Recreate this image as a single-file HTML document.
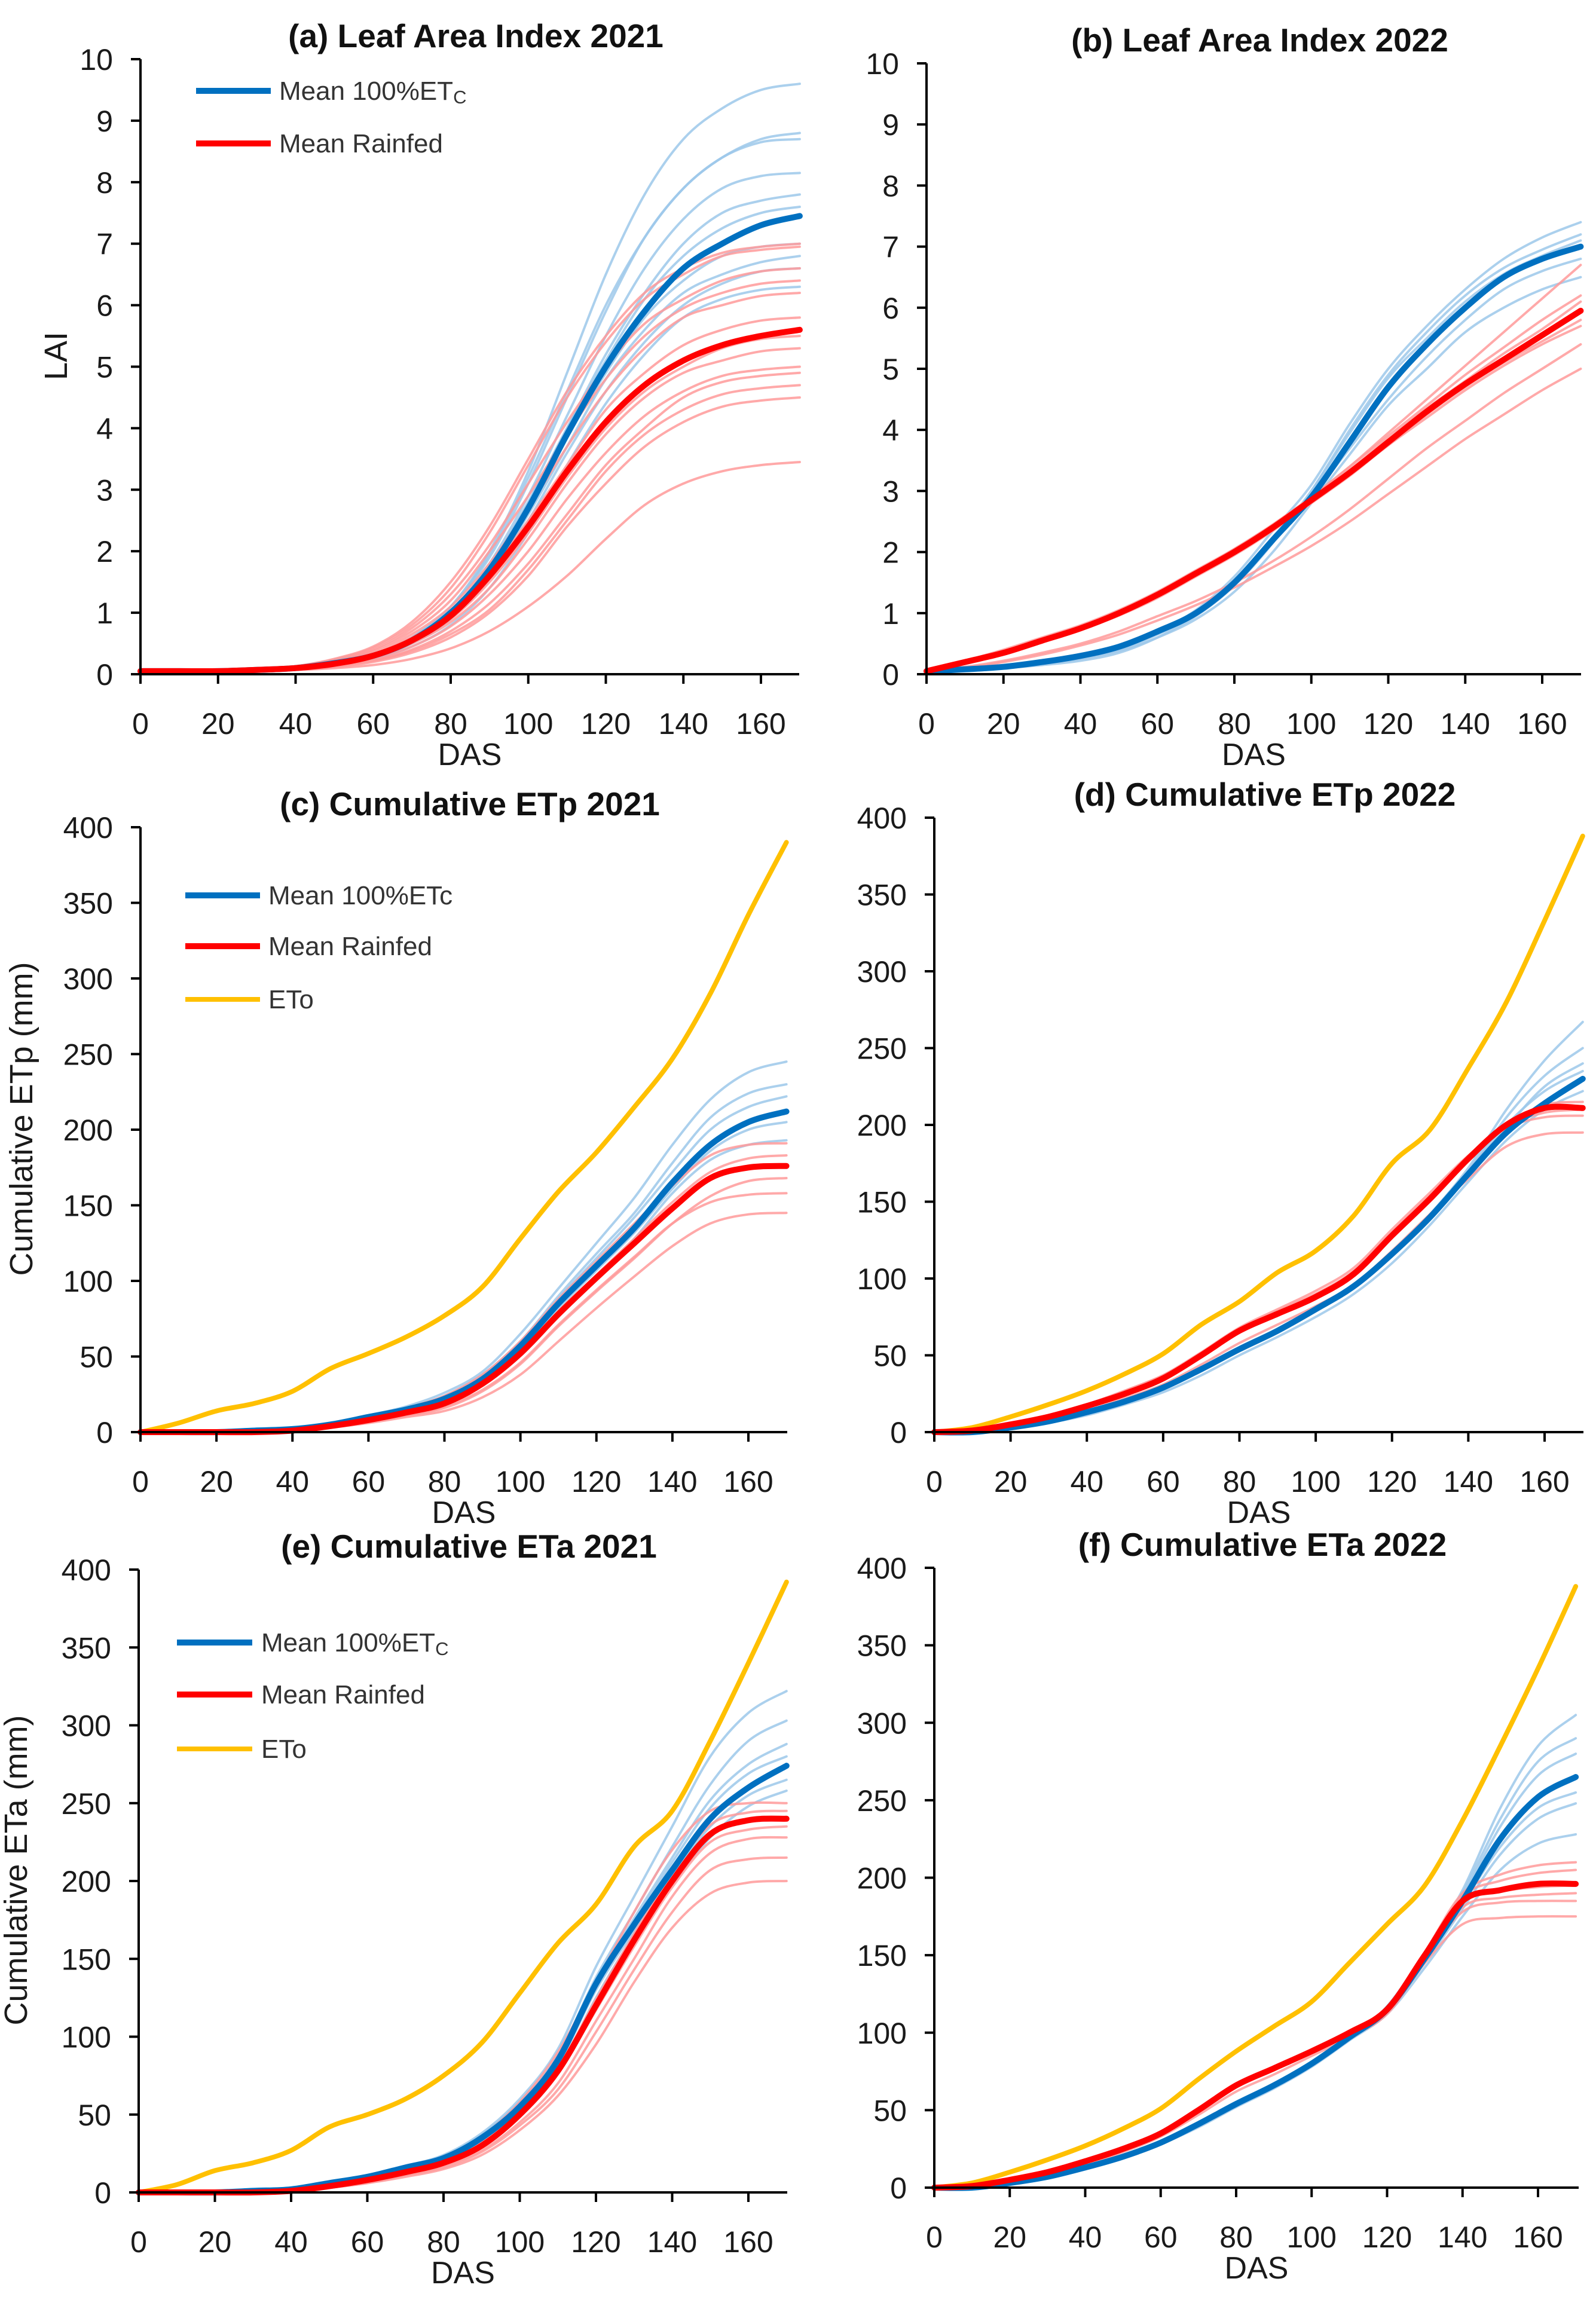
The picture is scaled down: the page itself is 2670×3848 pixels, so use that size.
<!DOCTYPE html>
<html><head><meta charset="utf-8">
<style>
html,body{margin:0;padding:0;background:#fff;}
svg{display:block;font-family:"Liberation Sans",sans-serif;}
</style></head>
<body>
<svg id="fig" width="2670" height="3848" viewBox="0 0 2670 3848" xmlns="http://www.w3.org/2000/svg"></svg>
<script>
// ---- data (x = 0..170 step 10 DAS) ----
const DAS = [0,10,20,30,40,50,60,70,80,90,100,110,120,130,140,150,160,170];
const laiTicks = [0,1,2,3,4,5,6,7,8,9,10];
const etTicks = [0,50,100,150,200,250,300,350,400];
const dasTicks = [0,20,40,60,80,100,120,140,160];

// (a) LAI 2021
const aBlueMean = [.05,.05,.05,.07,.1,.18,.3,.55,1.0,1.7,2.7,3.9,5.0,5.9,6.6,7.0,7.3,7.45];
const aRedMean  = [.05,.05,.05,.07,.1,.17,.3,.55,.95,1.6,2.4,3.3,4.1,4.7,5.1,5.35,5.5,5.6];
const aBlue1 = [.05,.05,.05,.07,.1,.18,.32,.6,1.1,2.0,3.3,4.9,6.5,7.8,8.7,9.2,9.5,9.6];
const aBlue2 = [.05,.05,.05,.07,.1,.18,.32,.6,1.1,1.9,3.1,4.5,5.9,7.1,7.9,8.4,8.7,8.8];
const aBlue3 = [.05,.05,.05,.07,.1,.17,.3,.55,1.0,1.8,2.9,4.2,5.5,6.6,7.4,7.9,8.1,8.15];
const aBlue4 = [.05,.05,.05,.07,.1,.17,.3,.55,1.0,1.75,2.8,4.0,5.2,6.2,7.0,7.5,7.7,7.8];
const aBlue5 = [.05,.05,.05,.07,.1,.16,.28,.5,.9,1.6,2.6,3.7,4.8,5.6,6.2,6.5,6.7,6.8];
const aBlue6 = [.05,.05,.05,.07,.09,.15,.25,.45,.8,1.4,2.3,3.4,4.4,5.2,5.8,6.1,6.25,6.3];
const aBlue7 = [.05,.05,.05,.07,.1,.18,.32,.6,1.1,1.95,3.2,4.6,6.0,7.1,7.9,8.4,8.65,8.7];
const aBlue8 = [.05,.05,.05,.07,.1,.17,.3,.55,1.0,1.75,2.8,4.0,5.1,6.1,6.8,7.25,7.5,7.6];
const aBlue9 = [.05,.05,.05,.07,.1,.17,.3,.52,.95,1.65,2.7,3.85,4.9,5.8,6.4,6.8,6.95,7.0];
const aBlue10 = [.05,.05,.05,.07,.1,.16,.28,.5,.9,1.55,2.5,3.6,4.6,5.4,6.0,6.35,6.55,6.6];
const aRed1 = [.05,.05,.06,.08,.13,.25,.45,.85,1.5,2.4,3.5,4.6,5.5,6.2,6.6,6.85,6.95,7.0];
const aRed2 = [.05,.05,.05,.07,.12,.22,.4,.75,1.3,2.1,3.1,4.1,5.0,5.7,6.1,6.4,6.55,6.6];
const aRed3 = [.05,.05,.05,.07,.11,.2,.35,.65,1.1,1.8,2.7,3.7,4.6,5.3,5.8,6.0,6.15,6.2];
const aRed4 = [.05,.05,.05,.07,.1,.16,.28,.5,.85,1.4,2.2,3.1,3.9,4.5,4.9,5.1,5.25,5.3];
const aRed5 = [.05,.05,.05,.06,.08,.13,.22,.4,.7,1.15,1.8,2.6,3.4,4.0,4.5,4.75,4.85,4.9];
const aRed6 = [.05,.05,.05,.06,.08,.12,.2,.35,.6,1.0,1.6,2.4,3.1,3.7,4.1,4.35,4.45,4.5];
const aRed7 = [.05,.05,.05,.06,.07,.1,.15,.25,.42,.7,1.1,1.6,2.2,2.75,3.1,3.3,3.4,3.45];
const aRed8 = [.05,.05,.06,.08,.13,.24,.43,.8,1.4,2.3,3.4,4.5,5.4,6.1,6.5,6.8,6.9,6.95];
const aRed9 = [.05,.05,.05,.07,.12,.21,.38,.7,1.2,2.0,2.9,3.9,4.8,5.5,5.95,6.2,6.35,6.4];
const aRed10 = [.05,.05,.05,.07,.11,.19,.33,.6,1.0,1.65,2.5,3.4,4.3,4.9,5.35,5.6,5.75,5.8];
const aRed11 = [.05,.05,.05,.07,.1,.17,.3,.55,.9,1.5,2.3,3.2,4.0,4.6,5.0,5.3,5.45,5.5];
const aRed12 = [.05,.05,.05,.06,.09,.15,.25,.45,.78,1.3,2.0,2.85,3.6,4.2,4.6,4.85,4.95,5.0];
const aRed13 = [.05,.05,.05,.06,.08,.13,.22,.38,.65,1.05,1.7,2.5,3.3,3.9,4.3,4.55,4.65,4.7];

// (b) LAI 2022
const bBlueMean = [.05,.08,.12,.2,.3,.45,.7,1.0,1.5,2.2,2.9,3.8,4.7,5.4,6.0,6.5,6.8,7.0];
const bRedMean  = [.05,.2,.35,.55,.75,1.0,1.3,1.65,2.0,2.4,2.85,3.3,3.8,4.3,4.75,5.15,5.55,5.95];
const bBlue1 = [.05,.08,.12,.2,.3,.45,.7,1.05,1.6,2.35,3.1,4.1,5.0,5.7,6.3,6.8,7.15,7.4];
const bBlue2 = [.05,.07,.1,.17,.25,.38,.6,.9,1.35,2.0,2.8,3.6,4.4,5.0,5.6,6.0,6.3,6.5];
const bBlue3 = [.05,.06,.1,.15,.22,.35,.6,.95,1.45,2.15,3.0,4.0,4.9,5.6,6.2,6.65,6.95,7.2];
const bBlue4 = [.05,.07,.11,.18,.27,.4,.65,.97,1.5,2.2,3.0,3.95,4.85,5.5,6.1,6.55,6.85,7.1];
const bBlue5 = [.05,.07,.11,.19,.28,.43,.68,1.0,1.5,2.2,2.9,3.7,4.5,5.2,5.8,6.3,6.6,6.8];
const bRed1 = [.05,.22,.4,.6,.8,1.05,1.35,1.7,2.05,2.45,2.9,3.4,3.95,4.5,5.05,5.6,6.15,6.7];
const bRed2 = [.05,.2,.37,.57,.78,1.02,1.32,1.68,2.05,2.45,2.9,3.4,3.9,4.4,4.9,5.35,5.8,6.2];
const bRed3 = [.05,.12,.22,.35,.5,.7,.95,1.2,1.5,1.85,2.25,2.7,3.2,3.7,4.15,4.6,5.0,5.4];
const bRed4 = [.05,.1,.2,.32,.47,.65,.88,1.13,1.42,1.75,2.1,2.5,2.95,3.4,3.85,4.25,4.65,5.0];
const bRed5 = [.05,.18,.34,.53,.73,.96,1.25,1.6,1.95,2.35,2.8,3.25,3.75,4.2,4.65,5.05,5.4,5.7];
const bRed6 = [.05,.21,.37,.57,.77,1.02,1.32,1.67,2.03,2.43,2.88,3.35,3.85,4.35,4.8,5.25,5.65,6.1];
const bRed7 = [.05,.19,.34,.53,.73,.98,1.28,1.62,1.98,2.38,2.82,3.27,3.75,4.25,4.7,5.1,5.45,5.8];

// (c) Cumulative ETp 2021
const cEto = [0,6,14,19,27,42,52,63,77,96,128,159,185,215,247,290,342,390];
const cBlueMean = [0,0,0,1,2,5,10,15,22,35,57,85,110,135,165,190,205,212];
const cRedMean  = [0,0,0,0,1,4,8,13,19,32,52,78,102,125,148,168,175,176];
const cBlue1 = [0,0,0,1,2,5,11,17,26,40,65,95,125,155,190,220,238,245];
const cBlue2 = [0,0,0,1,2,5,10,16,24,38,60,90,118,145,178,208,224,230];
const cBlue3 = [0,0,0,1,2,4,9,14,20,32,52,78,103,128,158,180,190,193];
const cBlue4 = [0,0,0,1,2,5,10,16,23,37,59,88,115,142,172,200,215,222];
const cBlue5 = [0,0,0,1,2,5,10,15,21,34,55,82,107,132,161,186,200,205];
const cRed1 = [0,0,0,1,2,5,10,16,24,38,60,88,113,138,163,183,190,191];
const cRed2 = [0,0,0,0,1,3,7,11,16,27,45,70,93,115,138,156,166,168];
const cRed3 = [0,0,0,0,1,3,6,10,14,23,38,60,82,103,123,138,144,145];
const cRed4 = [0,0,0,0,1,4,8,13,19,32,53,80,104,128,152,172,181,183];
const cRed5 = [0,0,0,0,1,3,7,11,17,28,46,71,94,116,138,152,157,158];

// (d) Cumulative ETp 2022
const dEto = [0,3,10,18,27,38,51,70,85,104,118,141,175,197,237,280,333,388];
const dBlueMean = [0,0,3,7,13,20,29,41,54,66,80,95,116,140,168,195,214,230];
const dRedMean  = [0,1,5,10,17,25,35,50,66,77,88,103,128,152,178,200,211,211];
const dBlue1 = [0,0,3,7,13,20,29,41,54,66,80,95,117,142,172,210,242,267];
const dBlue2 = [0,0,3,7,13,20,29,41,54,66,80,95,116,140,168,198,225,240];
const dBlue3 = [0,0,2,6,11,18,26,37,50,62,75,90,110,135,163,190,210,222];
const dBlue4 = [0,0,3,7,13,20,29,41,54,66,80,95,116,140,170,200,222,235];
const dBlue5 = [0,0,3,7,13,20,29,41,54,66,80,96,117,141,170,205,232,250];
const dRed1 = [0,1,5,10,17,25,35,50,66,77,88,103,128,152,178,200,213,215];
const dRed2 = [0,1,4,8,14,22,31,44,58,70,82,96,118,142,165,186,194,195];
const dRed3 = [0,1,5,11,18,27,37,52,68,80,92,107,132,156,180,198,205,206];
const dRed4 = [0,1,5,11,18,27,37,51,67,79,90,105,130,154,179,199,208,210];

// (e) Cumulative ETa 2021
const eEto = [0,5,14,19,27,42,50,60,75,96,128,160,185,222,245,290,340,392];
const eBlueMean = [0,0,0,1,2,6,10,16,22,35,55,85,134,172,207,240,260,274];
const eRedMean  = [0,0,0,0,1,4,8,13,19,30,50,78,120,162,200,230,239,240];
const eBlue1 = [0,0,0,1,2,6,11,17,24,38,60,92,145,190,235,280,308,322];
const eBlue2 = [0,0,0,1,2,6,10,16,23,37,58,88,138,180,222,262,290,303];
const eBlue3 = [0,0,0,1,2,5,9,14,20,32,50,78,125,165,198,228,248,258];
const eBlue4 = [0,0,0,1,2,6,10,16,23,36,57,86,135,176,215,252,275,288];
const eBlue5 = [0,0,0,1,2,6,10,16,23,36,56,86,134,174,212,247,269,280];
const eBlue6 = [0,0,0,1,2,5,10,15,21,34,53,82,130,168,203,235,255,265];
const eRed1 = [0,0,0,1,2,5,10,16,23,36,58,90,135,180,220,245,250,250];
const eRed2 = [0,0,0,0,1,3,7,11,17,27,45,70,110,150,190,218,227,228];
const eRed3 = [0,0,0,0,1,3,6,10,15,24,40,62,95,135,170,192,199,200];
const eRed4 = [0,0,0,0,1,4,8,13,19,30,49,76,117,158,196,225,233,235];
const eRed5 = [0,0,0,0,1,4,8,14,20,32,52,80,124,166,205,236,244,245];
const eRed6 = [0,0,0,0,1,3,6,11,16,26,43,66,103,143,180,207,214,215];

// (f) Cumulative ETa 2022
const fEto = [0,3,10,18,27,38,51,70,88,104,120,145,170,195,237,285,335,388];
const fBlueMean = [0,0,3,7,13,20,29,41,54,66,80,97,115,148,185,225,252,265];
const fRedMean  = [0,1,5,10,17,25,35,50,66,77,88,100,115,150,185,192,196,196];
const fBlue1 = [0,0,3,7,13,20,29,41,54,66,80,97,117,152,192,245,285,305];
const fBlue2 = [0,0,3,7,13,20,29,41,54,66,80,97,116,150,190,238,275,290];
const fBlue3 = [0,0,3,7,13,20,29,41,54,66,80,97,114,145,180,215,238,248];
const fBlue4 = [0,0,2,6,12,19,28,39,52,64,78,95,112,142,175,205,222,228];
const fBlue5 = [0,0,3,7,13,20,29,41,54,66,80,97,116,149,188,233,266,280];
const fBlue6 = [0,0,3,7,13,20,29,41,54,66,80,97,115,147,183,220,245,255];
const fRed1 = [0,1,5,10,17,25,35,50,66,77,88,100,116,152,190,202,208,210];
const fRed2 = [0,1,5,10,17,25,35,50,66,77,88,100,114,148,178,184,185,185];
const fRed3 = [0,1,4,9,15,23,33,47,62,73,85,97,112,145,170,174,175,175];
const fRed4 = [0,1,5,10,17,25,35,50,66,77,88,100,115,150,184,191,194,195];
const fRed5 = [0,1,5,10,17,25,35,50,66,77,88,100,116,151,188,198,203,205];
const fRed6 = [0,1,5,10,17,25,35,49,65,76,87,99,114,148,181,187,189,190];

const NS = "http://www.w3.org/2000/svg";
const svg = document.getElementById('fig');
function mk(tag, attrs, parent){
  const e = document.createElementNS(NS, tag);
  for (const k in attrs) e.setAttribute(k, attrs[k]);
  (parent||svg).appendChild(e);
  return e;
}
function smoothPath(pts){
  let d = 'M'+pts[0][0].toFixed(1)+','+pts[0][1].toFixed(1);
  for (let i=0;i<pts.length-1;i++){
    const p0=pts[Math.max(0,i-1)], p1=pts[i], p2=pts[i+1], p3=pts[Math.min(pts.length-1,i+2)];
    const c1x=p1[0]+(p2[0]-p0[0])/6, c1y=p1[1]+(p2[1]-p0[1])/6;
    const c2x=p2[0]-(p3[0]-p1[0])/6, c2y=p2[1]-(p3[1]-p1[1])/6;
    d+=' C'+c1x.toFixed(1)+','+c1y.toFixed(1)+' '+c2x.toFixed(1)+','+c2y.toFixed(1)+' '+p2[0].toFixed(1)+','+p2[1].toFixed(1);
  }
  return d;
}

const panels = [
 {id:'a', title:'(a) Leaf Area Index 2021', x0:235,x160:1273,xend:1337,y0:1128,yTop:99,ymax:10,yt:laiTicks, ylab:'LAI', ylabX:112, legend:{x1:328,x2:453,tx:467,ys:[152,240],sub:true},
  blues:[aBlue1,aBlue2,aBlue3,aBlue4,aBlue5,aBlue6,aBlue7,aBlue8,aBlue9,aBlue10], reds:[aRed1,aRed2,aRed3,aRed4,aRed5,aRed6,aRed7,aRed8,aRed9,aRed10,aRed11,aRed12,aRed13], bm:aBlueMean, rm:aRedMean, eto:null},
 {id:'b', title:'(b) Leaf Area Index 2022', x0:1550,x160:2580,xend:2645,y0:1128,yTop:106,ymax:10,yt:laiTicks, ylab:null,
  blues:[bBlue1,bBlue2,bBlue3,bBlue4,bBlue5], reds:[bRed1,bRed2,bRed3,bRed4,bRed5,bRed6,bRed7], bm:bBlueMean, rm:bRedMean, eto:null},
 {id:'c', title:'(c) Cumulative ETp 2021', x0:235,x160:1252,xend:1317,y0:2396,yTop:1384,ymax:400,yt:etTicks, ylab:'Cumulative ETp (mm)', ylabX:54, legend:{x1:310,x2:435,tx:449,ys:[1498,1583,1672],sub:false},
  blues:[cBlue1,cBlue2,cBlue3,cBlue4,cBlue5], reds:[cRed1,cRed2,cRed3,cRed4,cRed5], bm:cBlueMean, rm:cRedMean, eto:cEto},
 {id:'d', title:'(d) Cumulative ETp 2022', x0:1563,x160:2584,xend:2649,y0:2396,yTop:1368,ymax:400,yt:etTicks, ylab:null,
  blues:[dBlue1,dBlue2,dBlue3,dBlue4,dBlue5], reds:[dRed1,dRed2,dRed3,dRed4], bm:dBlueMean, rm:dRedMean, eto:dEto},
 {id:'e', title:'(e) Cumulative ETa 2021', x0:232,x160:1252,xend:1317,y0:3668,yTop:2626,ymax:400,yt:etTicks, ylab:'Cumulative ETa (mm)', ylabX:45, legend:{x1:296,x2:422,tx:437,ys:[2748,2835,2926],sub:true},
  blues:[eBlue1,eBlue2,eBlue3,eBlue4,eBlue5,eBlue6], reds:[eRed1,eRed2,eRed3,eRed4,eRed5,eRed6], bm:eBlueMean, rm:eRedMean, eto:eEto},
 {id:'f', title:'(f) Cumulative ETa 2022', x0:1563,x160:2573,xend:2641,y0:3660,yTop:2623,ymax:400,yt:etTicks, ylab:null,
  blues:[fBlue1,fBlue2,fBlue3,fBlue4,fBlue5,fBlue6], reds:[fRed1,fRed2,fRed3,fRed4,fRed5,fRed6], bm:fBlueMean, rm:fRedMean, eto:fEto}
];

panels.forEach(p=>{
  const g = mk('g',{});
  
  
  const xs = v => p.x0 + (p.x160-p.x0)*v/160;
  const ys = v => p.y0 - (p.y0-p.yTop)*v/p.ymax;
  const series = (arr, color, w, name, op) => {
    const path = mk('path',{d:smoothPath(DAS.map((x,i)=>[xs(x),ys(arr[i])])), fill:'none', stroke:color,'stroke-width':w,'stroke-linejoin':'round','stroke-linecap':'round','stroke-opacity':op||1}, g);
    
    
  };
  p.blues.forEach((s,i)=>series(s,'#9cc8ea',4,'blue-plot-line-'+(i+1),0.85));
  p.reds.forEach((s,i)=>series(s,'#ff9a9a',4,'red-plot-line-'+(i+1),0.85));
  if (p.eto) series(p.eto,'#ffc000',8,'eto-line');
  series(p.bm,'#0070c0',10,'mean-100etc-line');
  series(p.rm,'#ff0000',10,'mean-rainfed-line');

  const ax = mk('line',{x1:p.x0,y1:p.y0,x2:p.xend,y2:p.y0,stroke:'#000','stroke-width':4},g);
  
  
  const ay = mk('line',{x1:p.x0,y1:p.y0+2,x2:p.x0,y2:p.yTop,stroke:'#000','stroke-width':4},g);
  
  
  dasTicks.forEach(t=>{
    mk('line',{x1:xs(t),y1:p.y0,x2:xs(t),y2:p.y0+16,stroke:'#000','stroke-width':4},g);
    const tx = mk('text',{x:xs(t),y:p.y0+100,'text-anchor':'middle','font-size':50,fill:'#1a1a1a'},g);
    tx.textContent = t;
    
    
  });
  p.yt.forEach(t=>{
    mk('line',{x1:p.x0-16,y1:ys(t),x2:p.x0,y2:ys(t),stroke:'#000','stroke-width':4},g);
    const tx = mk('text',{x:p.x0-46,y:ys(t)+18,'text-anchor':'end','font-size':50,fill:'#1a1a1a'},g);
    tx.textContent = t;
    
    
  });
  const xl = mk('text',{x:(p.x0+p.xend)/2,y:p.y0+152,'text-anchor':'middle','font-size':52,fill:'#1a1a1a'},g);
  xl.textContent = 'DAS';
  
  
  const tt = mk('text',{x:(p.x0+p.xend)/2+10,y:p.yTop-20,'text-anchor':'middle','font-size':55,'font-weight':'bold',fill:'#111'},g);
  tt.textContent = p.title;
  
  
  if (p.ylab){
    const cy = (p.y0+p.yTop)/2;
    const yl = mk('text',{x:p.ylabX+18,y:cy,'text-anchor':'middle','font-size':54,fill:'#1a1a1a',transform:'rotate(-90 '+(p.ylabX)+' '+cy+')'},g);
    yl.textContent = p.ylab;
    
    
  }
  if (p.legend){
    const L = p.legend;
    const cols = ['#0070c0','#ff0000','#ffc000'];
    const labels = ['Mean 100%ET','Mean Rainfed','ETo'];
    L.ys.forEach((y,i)=>{
      const lg = mk('g',{},g);
      
      
      mk('line',{x1:L.x1,y1:y,x2:L.x2,y2:y,stroke:cols[i],'stroke-width':i==2?8:10},lg);
      const t = mk('text',{x:L.tx,y:y+15,'font-size':44,fill:'#333'},lg);
      t.textContent = labels[i];
      if (i===0){
        const s = mk('tspan',{'font-size':L.sub?31:44, dy:L.sub?6:0},t);
        s.textContent = L.sub ? 'C' : 'c';
      }
    });
  }
});
</script>
</body></html>
